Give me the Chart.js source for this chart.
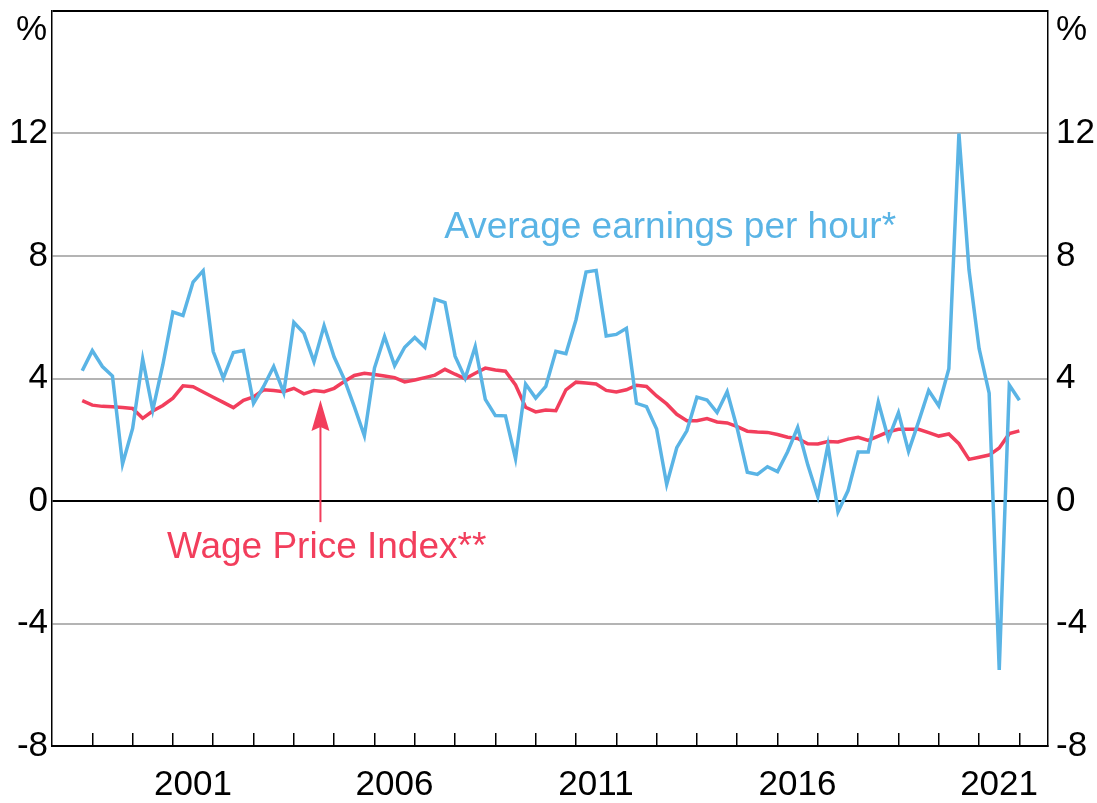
<!DOCTYPE html>
<html>
<head>
<meta charset="utf-8">
<script src="https://cdn.jsdelivr.net/npm/chart.js@4.4.1/dist/chart.umd.min.js"></script>
<style>
  html, body { margin: 0; padding: 0; background: #fff; }
  #wrap { width: 1097px; height: 803px; }
</style>
</head>
<body>
<div id="wrap"><canvas id="wageChart" width="1097" height="803"></canvas></div>
<script>
// quarterly, year-ended %, Sep 1998 to Dec 2021
const startYear = 1998;
const startQuarter = 3;

const earningsPerHour = [
  4.25, 4.91, 4.39, 4.08, 1.21, 2.37, 4.63, 2.97, 4.45, 6.17,
  6.06, 7.15, 7.52, 4.88, 4.01, 4.85, 4.91, 3.19, 3.74, 4.39,
  3.54, 5.83, 5.48, 4.55, 5.72, 4.70, 3.98, 3.08, 2.13, 4.34,
  5.37, 4.42, 5.02, 5.34, 5.02, 6.59, 6.48, 4.73, 4.01, 5.04,
  3.32, 2.79, 2.78, 1.38, 3.82, 3.36, 3.74, 4.89, 4.81, 5.92,
  7.48, 7.53, 5.39, 5.44, 5.64, 3.19, 3.08, 2.35, 0.54, 1.74,
  2.29, 3.39, 3.30, 2.89, 3.57, 2.37, 0.94, 0.87, 1.12, 0.96,
  1.61, 2.40, 1.18, 0.14, 1.83, -0.35, 0.34, 1.60, 1.60, 3.23,
  2.03, 2.88, 1.62, 2.59, 3.61, 3.11, 4.32, 12.0, 7.55, 4.98,
  3.52, -5.52, 3.79, 3.29
];

const wagePriceIndex = [
  3.28, 3.13, 3.09, 3.08, 3.05, 3.02, 2.70, 2.94, 3.12, 3.36,
  3.76, 3.73, 3.56, 3.39, 3.22, 3.05, 3.29, 3.40, 3.63, 3.61,
  3.57, 3.68, 3.50, 3.61, 3.57, 3.68, 3.90, 4.10, 4.17, 4.13,
  4.08, 4.03, 3.89, 3.95, 4.03, 4.11, 4.30, 4.14, 3.99, 4.17,
  4.34, 4.28, 4.24, 3.79, 3.06, 2.91, 2.97, 2.95, 3.63, 3.88,
  3.85, 3.82, 3.61, 3.56, 3.63, 3.78, 3.74, 3.43, 3.17, 2.83,
  2.62, 2.62, 2.69, 2.58, 2.55, 2.43, 2.28, 2.25, 2.24, 2.17,
  2.08, 2.04, 1.87, 1.86, 1.94, 1.93, 2.02, 2.08, 1.98, 2.12,
  2.26, 2.34, 2.34, 2.34, 2.23, 2.12, 2.19, 1.87, 1.36, 1.43,
  1.50, 1.73, 2.20, 2.29
];

const yTicks = [-8, -4, 0, 4, 8, 12, 16];
const yearTicks = [1999, 2000, 2001, 2002, 2003, 2004, 2005, 2006, 2007, 2008, 2009, 2010,
  2011, 2012, 2013, 2014, 2015, 2016, 2017, 2018, 2019, 2020, 2021, 2022];
const labelYears = [2001, 2006, 2011, 2016, 2021];

const BLUE = '#5ab4e5';
const RED = '#f23e5c';
const FONT = 'Arial, "Liberation Sans", sans-serif';

// quarter end as fractional year
const quarterDates = earningsPerHour.map((_, i) => {
  const q = startQuarter - 1 + i;
  return startYear + Math.floor(q / 4) + ((q % 4) + 1) * 0.25;
});

const toPoints = arr => arr.map((v, i) => ({ x: quarterDates[i], y: v }));

// keep the plot area fixed, no room reserved for half labels
const noPad = s => { s.paddingTop = 0; s.paddingBottom = 0; s.paddingLeft = 0; s.paddingRight = 0; };

const annotations = {
  id: 'annotations',
  afterDraw(chart) {
    const { ctx, chartArea } = chart;
    const x = chart.scales.x;
    const y = chart.scales.y;
    ctx.save();

    // unit labels
    ctx.fillStyle = '#000';
    ctx.font = '35px ' + FONT;
    ctx.textBaseline = 'middle';
    ctx.textAlign = 'right';
    ctx.fillText('%', chartArea.left - 5, 30);
    ctx.textAlign = 'left';
    ctx.fillText('%', chartArea.right + 8, 30);

    // series labels
    ctx.font = '37px ' + FONT;
    ctx.textAlign = 'left';
    ctx.fillStyle = BLUE;
    ctx.fillText('Average earnings per hour*', x.getPixelForValue(2007.73), y.getPixelForValue(8.92));
    ctx.fillStyle = RED;
    ctx.fillText('Wage Price Index**', x.getPixelForValue(2000.85), y.getPixelForValue(-1.54));

    // arrow
    const ax = x.getPixelForValue(2004.66);
    const tip = y.getPixelForValue(3.3);
    const tail = y.getPixelForValue(-0.69);
    ctx.strokeStyle = RED;
    ctx.lineWidth = 2;
    ctx.beginPath();
    ctx.moveTo(ax, tail);
    ctx.lineTo(ax, tip + 20);
    ctx.stroke();
    ctx.beginPath();
    ctx.moveTo(ax, tip);
    ctx.lineTo(ax - 9, tip + 31);
    ctx.lineTo(ax, tip + 27);
    ctx.lineTo(ax + 9, tip + 31);
    ctx.closePath();
    ctx.fill();
    ctx.restore();
  }
};

new Chart(document.getElementById('wageChart'), {
  type: 'line',
  data: {
    datasets: [
      {
        label: 'Average earnings per hour*',
        data: toPoints(earningsPerHour),
        borderColor: BLUE,
        borderWidth: 3.5,
        pointRadius: 0,
        tension: 0
      },
      {
        label: 'Wage Price Index**',
        data: toPoints(wagePriceIndex),
        borderColor: RED,
        borderWidth: 3.5,
        pointRadius: 0,
        tension: 0
      }
    ]
  },
  options: {
    responsive: false,
    animation: false,
    devicePixelRatio: 1,
    layout: { padding: { top: 11 } },
    plugins: {
      legend: { display: false },
      tooltip: { enabled: false }
    },
    scales: {
      x: {
        type: 'linear',
        min: 1998,
        max: 2022.71,
        afterBuildTicks: s => { s.ticks = yearTicks.map(v => ({ value: v })); },
        afterFit: s => { s.height = 57; noPad(s); },
        grid: { drawOnChartArea: false, tickLength: -13, color: '#000', lineWidth: 1.5 },
        border: { color: '#000', width: 2 },
        ticks: {
          autoSkip: false,
          maxRotation: 0,
          labelOffset: 20,
          padding: 31,
          color: '#000',
          font: { family: FONT, size: 35 },
          callback: v => labelYears.includes(v) ? String(v) : ''
        }
      },
      y: {
        position: 'left',
        min: -8,
        max: 16,
        afterBuildTicks: s => { s.ticks = yTicks.map(v => ({ value: v })); },
        afterFit: s => { s.width = 52; noPad(s); },
        grid: {
          drawTicks: false,
          color: c => (c.tick.value === 0 || c.tick.value === 16) ? '#000' : '#b4b4b4',
          lineWidth: 2
        },
        border: { color: '#000', width: 1.5 },
        ticks: {
          padding: 4,
          color: '#000',
          font: { family: FONT, size: 35 },
          callback: v => v === 16 ? '' : String(v)
        }
      },
      y2: {
        position: 'right',
        min: -8,
        max: 16,
        afterBuildTicks: s => { s.ticks = yTicks.map(v => ({ value: v })); },
        afterFit: s => { s.width = 49; noPad(s); },
        grid: { drawOnChartArea: false, drawTicks: false },
        border: { color: '#000', width: 1.5 },
        ticks: {
          padding: 8,
          color: '#000',
          font: { family: FONT, size: 35 },
          callback: v => v === 16 ? '' : String(v)
        }
      }
    }
  },
  plugins: [annotations]
});
</script>
</body>
</html>
